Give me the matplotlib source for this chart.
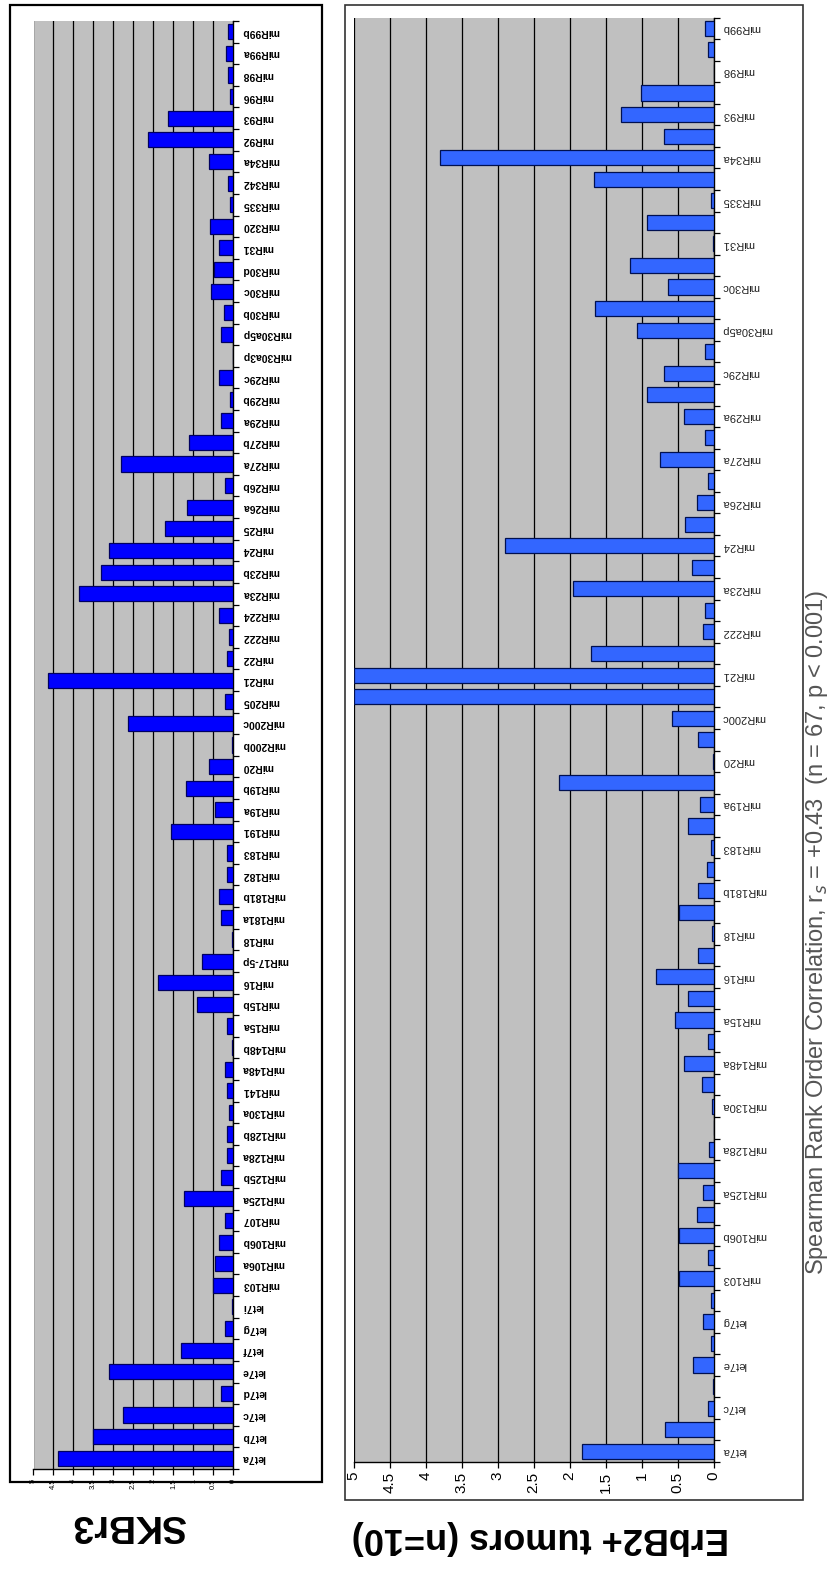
import numpy as np
import matplotlib
matplotlib.use("Agg")
import matplotlib.pyplot as plt
from matplotlib.patches import Rectangle

# categories, bottom to top
mirnas = ["let7a", "let7b", "let7c", "let7d", "let7e", "let7f", "let7g", "let7i",
          "miR103", "miR106a", "miR106b", "miR107", "miR125a", "miR125b", "miR128a",
          "miR128b", "miR130a", "miR141", "miR148a", "miR148b", "miR15a", "miR15b",
          "miR16", "miR17-5p", "miR18", "miR181a", "miR181b", "miR182", "miR183",
          "miR191", "miR19a", "miR19b", "miR20", "miR200b", "miR200c", "miR205",
          "miR21", "miR22", "miR222", "miR224", "miR23a", "miR23b", "miR24", "miR25",
          "miR26a", "miR26b", "miR27a", "miR27b", "miR29a", "miR29b", "miR29c",
          "miR30a3p", "miR30a5p", "miR30b", "miR30c", "miR30d", "miR31", "miR320",
          "miR335", "miR342", "miR34a", "miR92", "miR93", "miR96", "miR98",
          "miR99a", "miR99b"]

skbr3 = [4.38, 3.52, 2.77, 0.31, 3.10, 1.30, 0.21, 0.03, 0.50, 0.45, 0.36, 0.21,
         1.23, 0.31, 0.15, 0.17, 0.11, 0.15, 0.20, 0.04, 0.17, 0.90, 1.88, 0.78,
         0.04, 0.31, 0.35, 0.17, 0.17, 1.57, 0.45, 1.19, 0.61, 0.04, 2.64, 0.20,
         4.63, 0.17, 0.10, 0.35, 3.86, 3.30, 3.10, 1.70, 1.16, 0.21, 2.81, 1.10,
         0.31, 0.09, 0.36, 0.02, 0.31, 0.24, 0.56, 0.49, 0.35, 0.59, 0.09, 0.13,
         0.61, 2.14, 1.63, 0.09, 0.13, 0.19, 0.13]

erbb2 = [1.83, 0.67, 0.07, 0.01, 0.28, 0.04, 0.14, 0.04, 0.48, 0.07, 0.48, 0.23,
         0.14, 0.49, 0.06, 0.00, 0.02, 0.16, 0.41, 0.07, 0.54, 0.35, 0.80, 0.21,
         0.02, 0.48, 0.21, 0.09, 0.04, 0.35, 0.19, 2.15, 0.01, 0.21, 0.58, 5.00,
         5.00, 1.70, 0.14, 0.12, 1.95, 0.30, 2.89, 0.39, 0.23, 0.07, 0.75, 0.12,
         0.41, 0.93, 0.69, 0.12, 1.06, 1.65, 0.63, 1.16, 0.01, 0.92, 0.04, 1.66,
         3.80, 0.69, 1.28, 1.01, 0.00, 0.07, 0.12]

value_ticks = [0, 0.5, 1, 1.5, 2, 2.5, 3, 3.5, 4, 4.5, 5]
value_labels = ["0", "0.5", "1", "1.5", "2", "2.5", "3", "3.5", "4", "4.5", "5"]

W, H = 831, 1579
fig = plt.figure(figsize=(W / 100, H / 100), dpi=100)
plt.rcParams['font.family'] = ['Liberation Sans', 'DejaVu Sans']


def frac(x0, y0, x1, y1):
    # pixel box (top-left origin) -> figure fraction rect
    return [x0 / W, 1 - y1 / H, (x1 - x0) / W, (y1 - y0) / H]


def frame(x0, y0, x1, y1, color, lw):
    fig.add_artist(Rectangle((x0 / W, 1 - y1 / H), (x1 - x0) / W, (y1 - y0) / H,
                             transform=fig.transFigure, fill=False,
                             edgecolor=color, lw=lw))


def panel(ax, values, bar_color, edge_color, every, lab_size, lab_color,
          val_size, lab_weight):
    pos = np.arange(len(mirnas))
    ax.barh(pos, values, height=0.7, color=bar_color, edgecolor=edge_color,
            lw=0.9, zorder=3)
    ax.set_xlim(5, 0)
    ax.set_ylim(-0.5, len(mirnas) - 0.5)
    ax.set_facecolor('#c0c0c0')
    ax.set_xticks(value_ticks)
    ax.set_xticklabels(value_labels, rotation=90, fontsize=val_size)
    ax.grid(axis='x', color='black', lw=0.9, zorder=1)
    ax.yaxis.tick_right()
    ax.set_yticks(np.arange(len(mirnas) + 1) - 0.5)
    ax.set_yticklabels([])
    ax.set_yticks(pos[::every], minor=True)
    ax.set_yticklabels(mirnas[::every], minor=True, rotation=180,
                       fontsize=lab_size, color=lab_color,
                       fontweight=lab_weight, va='center')
    ax.tick_params(axis='y', which='major', length=4, width=0.9,
                   direction='out')
    ax.tick_params(axis='y', which='minor', length=0, pad=6)
    ax.tick_params(axis='x', length=4, width=0.9, direction='out', pad=3)
    for side in ('top', 'left'):
        ax.spines[side].set_visible(False)
    for side in ('right', 'bottom'):
        ax.spines[side].set_linewidth(1.0)


# left panel: SKBr3
frame(10, 5, 322, 1482, 'black', 1.6)
ax1 = fig.add_axes(frac(33.5, 21, 233.5, 1469))
panel(ax1, skbr3, '#0000ff', '#000060', 1, 7.5, 'black', 5.5, 'bold')

# right panel: ErbB2+ tumors
frame(345, 5, 803, 1500, '#333333', 1.2)
ax2 = fig.add_axes(frac(353.5, 17.5, 713.5, 1462))
panel(ax2, erbb2, '#3366ff', '#001050', 2, 8, '#222222', 11, 'normal')

narrow = ['Liberation Sans Narrow', 'Liberation Sans', 'DejaVu Sans']
fig.text(128 / W, 1 - 1525 / H, "SKBr3", rotation=180, fontsize=27,
         fontweight='bold', family=narrow, ha='center', va='center')
fig.text(540 / W, 1 - 1537 / H, "ErbB2+ tumors (n=10)", rotation=180,
         fontsize=26, fontweight='bold', family=narrow, ha='center',
         va='center')
fig.text(817 / W, 1 - 932 / H,
         r"Spearman Rank Order Correlation, r$_s$ = +0.43  (n = 67, p < 0.001)",
         rotation=90, fontsize=17, color='#555555', ha='center', va='center')

fig.savefig("out.png", dpi=100)
